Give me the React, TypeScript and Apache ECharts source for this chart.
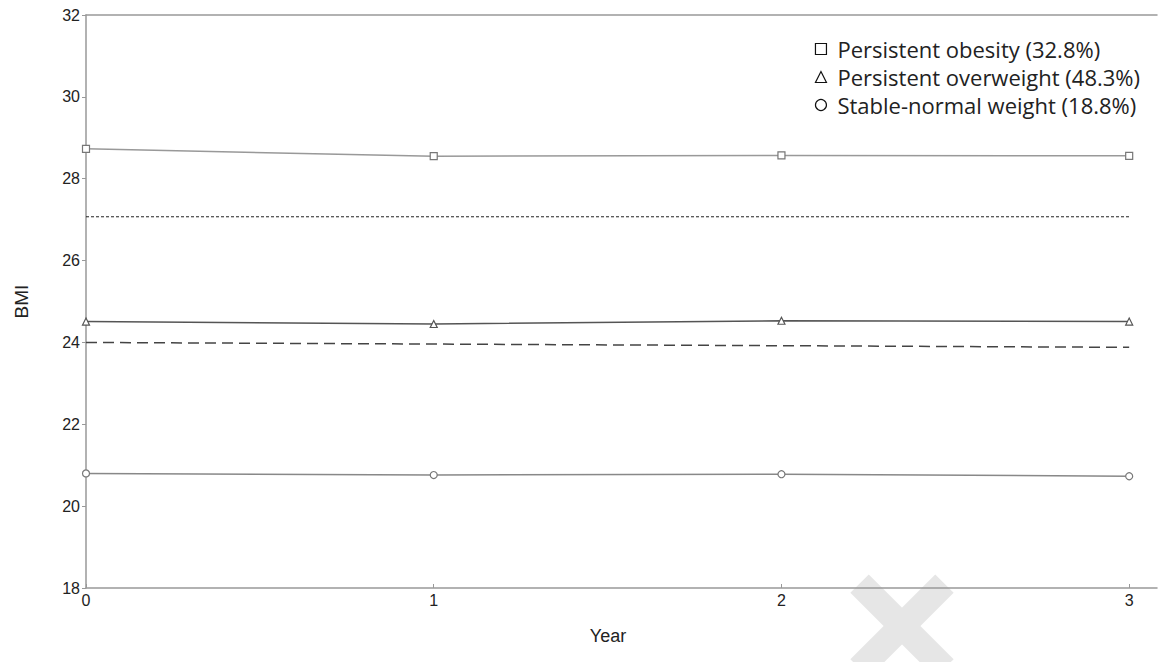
import React, { useEffect, useRef } from "react";
import * as echarts from "echarts";

const years = [0, 1, 2, 3];
const obesity = [28.73, 28.55, 28.57, 28.56];
const overweight = [24.51, 24.45, 24.53, 24.51];
const normalWeight = [20.8, 20.76, 20.78, 20.73];
const refYears = [0, 3];
const refDotted = [27.07, 27.07];
const refDashed = [24.0, 23.88];
const yTicks = [18, 20, 22, 24, 26, 28, 30, 32];
const seriesNames = [
  "Persistent obesity (32.8%)",
  "Persistent overweight (48.3%)",
  "Stable-normal weight (18.8%)",
];

export default function App() {
  const ref = useRef<HTMLDivElement>(null);
  useEffect(() => {
    if (!ref.current) return;
    const chart = echarts.init(ref.current, undefined, { renderer: "svg" });
    const pts = (vals: number[], xs: number[]) => xs.map((x, i) => [x, vals[i]]);
    const axisFont = { fontFamily: "Liberation Sans", fontSize: 16, color: "#222" };
    const iconStyle = { color: "#fff", borderColor: "#111", borderWidth: 1.2 };
    chart.setOption({
      animation: false,
      backgroundColor: "#fff",
      grid: { left: 86, top: 15, right: 2, bottom: 74, containLabel: false },
      legend: {
        orient: "vertical",
        right: 14,
        top: 30,
        itemWidth: 11,
        itemHeight: 11,
        itemGap: 0,
        textStyle: {
          fontFamily: "Open Sans",
          fontSize: 22,
          lineHeight: 28,
          color: "#222",
          padding: [0, 0, 0, 6],
        },
        data: [
          { name: seriesNames[0], icon: "rect", itemStyle: iconStyle },
          { name: seriesNames[1], icon: "triangle", itemStyle: iconStyle },
          { name: seriesNames[2], icon: "circle", itemStyle: iconStyle },
        ],
      },
      xAxis: [
        {
          type: "value",
          min: 0,
          max: 3.08,
          axisLine: { lineStyle: { color: "#999", width: 1.5 } },
          axisTick: { inside: true, length: 4, customValues: years, lineStyle: { color: "#999" } },
          axisLabel: { ...axisFont, margin: 4, customValues: years, formatter: (v: number) => String(v) },
          splitLine: { show: false },
        },
        {
          type: "value",
          position: "top",
          min: 0,
          max: 3.08,
          axisLine: { show: true, lineStyle: { color: "#999", width: 1.5 } },
          axisTick: { show: false },
          axisLabel: { show: false },
          splitLine: { show: false },
        },
      ],
      yAxis: {
        type: "value",
        min: 18,
        max: 32,
        interval: 2,
        name: "BMI",
        nameLocation: "middle",
        nameGap: 55,
        nameTextStyle: { fontFamily: "Liberation Sans", fontSize: 19, color: "#222" },
        axisLine: { show: true, lineStyle: { color: "#999", width: 1.5 } },
        axisTick: { show: true, length: 4, customValues: yTicks, lineStyle: { color: "#999" } },
        axisLabel: { ...axisFont, margin: 6 },
        splitLine: { show: false },
      },
      series: [
        {
          name: seriesNames[0],
          type: "line",
          data: pts(obesity, years),
          symbol: "rect",
          symbolSize: 7,
          lineStyle: { color: "#999", width: 1.5 },
          itemStyle: { color: "#fff", borderColor: "#777", borderWidth: 1.2 },
        },
        {
          name: seriesNames[1],
          type: "line",
          data: pts(overweight, years),
          symbol: "triangle",
          symbolSize: 7,
          lineStyle: { color: "#555", width: 1.5 },
          itemStyle: { color: "#fff", borderColor: "#555", borderWidth: 1.2 },
        },
        {
          name: seriesNames[2],
          type: "line",
          data: pts(normalWeight, years),
          symbol: "circle",
          symbolSize: 7,
          lineStyle: { color: "#888", width: 1.5 },
          itemStyle: { color: "#fff", borderColor: "#777", borderWidth: 1.2 },
        },
        {
          name: "ref-dotted",
          type: "line",
          data: pts(refDotted, refYears),
          symbol: "none",
          lineStyle: { color: "#222", width: 1, type: [3, 2] },
        },
        {
          name: "ref-dashed",
          type: "line",
          data: pts(refDashed, refYears),
          symbol: "none",
          lineStyle: { color: "#444", width: 1.5, type: [11, 6] },
        },
      ],
      graphic: [
        {
          type: "text",
          x: 608,
          y: 636,
          style: {
            text: "Year",
            fontFamily: "Liberation Sans",
            fontSize: 18,
            fill: "#222",
            align: "center",
            verticalAlign: "middle",
          },
        },
        {
          type: "rect",
          x: 902,
          y: 626,
          rotation: Math.PI / 4,
          shape: { x: -60, y: -13, width: 120, height: 26 },
          style: { fill: "#e6e6e6" },
          z: -1,
        },
        {
          type: "rect",
          x: 902,
          y: 626,
          rotation: -Math.PI / 4,
          shape: { x: -60, y: -13, width: 120, height: 26 },
          style: { fill: "#e6e6e6" },
          z: -1,
        },
      ],
    });
    return () => chart.dispose();
  }, []);
  return (
    <div
      ref={ref}
      style={{ position: "fixed", left: 0, top: 0, width: 1159, height: 662 }}
    />
  );
}
